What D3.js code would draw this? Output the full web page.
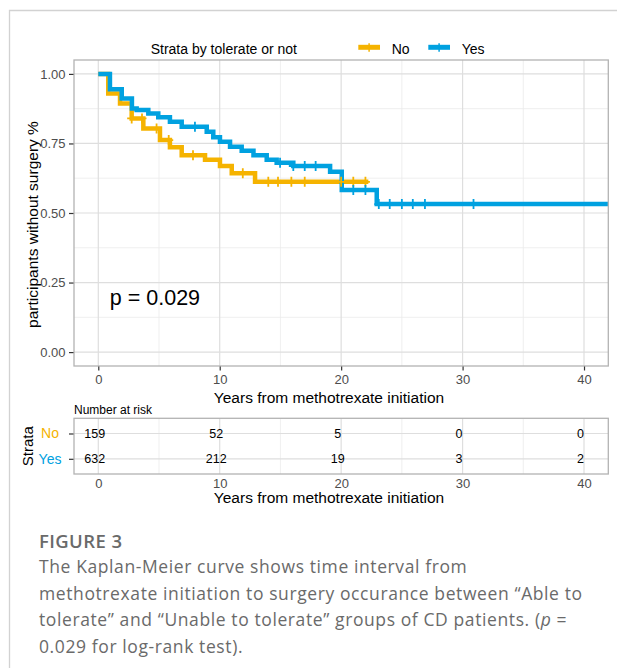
<!DOCTYPE html>
<html lang="en">

<head>
    <meta charset="UTF-8">
    <script src="https://d3js.org/d3.v7.min.js"></script>
    <title>KM curve</title>
    <style>
        body {
            margin: 0;
            background: white;
        }

        svg text {
            font-family: "Liberation Sans", Arial, sans-serif;
        }

        .caption text {
            font-family: "Open Sans", sans-serif;
            fill: #6a6a6a;
        }
    </style>
</head>

<body>
    <div class="fig"></div>

    <script>
        // survival steps (time of drop, level after drop)
        const noTimes = [0, 0.82, 1.79, 2.75, 3.71, 5.08, 5.9, 6.87, 8.79, 10.02, 10.99, 12.91, 22.24];
        const noSurv = [1, 0.930, 0.894, 0.840, 0.804, 0.762, 0.736, 0.708, 0.691, 0.669, 0.643, 0.612, 0.612];
        const yesTimes = [0, 0.96, 1.93, 2.77, 3.16, 4.12, 4.94, 5.9, 6.87, 8.93, 9.47, 10.02, 10.85, 11.81, 12.78, 13.87, 14.69, 16.06, 19.09, 20.05, 22.93, 42];
        const yesSurv = [1, 0.945, 0.912, 0.876, 0.870, 0.858, 0.844, 0.828, 0.810, 0.792, 0.772, 0.756, 0.738, 0.724, 0.708, 0.691, 0.681, 0.669, 0.648, 0.583, 0.532, 0.532];

        // censored times
        const noCensor = [2.75, 3.6, 4.8, 5.8, 7.8, 11.9, 14, 14.8, 15.9, 17, 20, 21, 22];
        const yesCensor = [7.96, 14.97, 16.06, 17, 17.9, 21, 22, 23.1, 24, 25, 25.9, 26.9, 30.9];

        // number at risk table
        const riskTimes = [0, 10, 20, 30, 40];
        const riskNo = [159, 52, 5, 0, 0];
        const riskYes = [632, 212, 19, 3, 2];

        const strata = ["No", "Yes"];
        const strataColors = ["#F5B300", "#00A1E0"];

        const xTicks = [0, 10, 20, 30, 40];
        const xMinor = [5, 15, 25, 35];
        const yTicks = [0, 0.25, 0.5, 0.75, 1];
        const yMinor = [0.125, 0.375, 0.625, 0.875];

        const captionTitle = "FIGURE 3";
        const captionLines = [
            "The Kaplan-Meier curve shows time interval from",
            "methotrexate initiation to surgery occurance between \u201cAble to",
            "tolerate\u201d and \u201cUnable to tolerate\u201d groups of CD patients. (|p| =",
            "0.029 for log-rank test)."
        ];

        const width = 617, height = 668;
        const panel = { left: 74, right: 608.3, top: 60, bottom: 366 };
        const table = { top: 418.3, bottom: 474 };

        const svg = d3.select(".fig").append("svg")
            .attr("width", width)
            .attr("height", height);

        svg.append("rect").attr("width", width).attr("height", height).attr("fill", "white");

        // page frame
        svg.append("path")
            .attr("d", `M9.5,${height} V10.5 H${width}`)
            .attr("fill", "none")
            .attr("stroke", "#d2d2d2")
            .attr("stroke-width", 1.3);

        const x = d3.scaleLinear().domain([-2, 42]).range([panel.left, panel.right]);
        const y = d3.scaleLinear().domain([-0.05, 1.05]).range([panel.bottom, panel.top]);

        const grid = (g, top, bottom, yMaj, yMin) => {
            g.selectAll(".vmin").data(xMinor).enter().append("line")
                .attr("x1", d => x(d)).attr("x2", d => x(d))
                .attr("y1", top).attr("y2", bottom)
                .attr("stroke", "#ebebeb").attr("stroke-width", 0.8);
            g.selectAll(".hmin").data(yMin).enter().append("line")
                .attr("x1", panel.left).attr("x2", panel.right)
                .attr("y1", d => d).attr("y2", d => d)
                .attr("stroke", "#ebebeb").attr("stroke-width", 0.8);
            g.selectAll(".vmaj").data(xTicks).enter().append("line")
                .attr("x1", d => x(d)).attr("x2", d => x(d))
                .attr("y1", top).attr("y2", bottom)
                .attr("stroke", "#dedede").attr("stroke-width", 1.2);
            g.selectAll(".hmaj").data(yMaj).enter().append("line")
                .attr("x1", panel.left).attr("x2", panel.right)
                .attr("y1", d => d).attr("y2", d => d)
                .attr("stroke", "#dedede").attr("stroke-width", 1.2);
        };

        grid(svg.append("g"), panel.top, panel.bottom, yTicks.map(y), yMinor.map(y));

        // curves
        svg.append("clipPath").attr("id", "clip").append("rect")
            .attr("x", panel.left).attr("y", panel.top)
            .attr("width", panel.right - panel.left).attr("height", panel.bottom - panel.top);

        const line = d3.line().curve(d3.curveStepAfter).x(d => x(d[0])).y(d => y(d[1]));
        const curves = [d3.zip(noTimes, noSurv), d3.zip(yesTimes, yesSurv)];
        const censors = [noCensor, yesCensor];

        const plotG = svg.append("g").attr("clip-path", "url(#clip)");
        curves.forEach((c, i) => {
            plotG.append("path")
                .attr("d", line(c))
                .attr("fill", "none")
                .attr("stroke", strataColors[i])
                .attr("stroke-width", 4.5);
        });

        const stepValue = (c, t) => {
            const idx = d3.bisector(d => d[0]).right(c, t) - 1;
            return c[Math.max(idx, 0)][1];
        };

        censors.forEach((cs, i) => {
            plotG.selectAll(".c" + i).data(cs).enter().append("path")
                .attr("d", t => {
                    const cx = x(t), cy = y(stepValue(curves[i], t));
                    return `M${cx - 4.5},${cy}H${cx + 4.5}M${cx},${cy - 5}V${cy + 5}`;
                })
                .attr("stroke", strataColors[i])
                .attr("stroke-width", 1.8)
                .attr("fill", "none");
        });

        svg.append("rect")
            .attr("x", panel.left).attr("y", panel.top)
            .attr("width", panel.right - panel.left).attr("height", panel.bottom - panel.top)
            .attr("fill", "none").attr("stroke", "#b3b3b3").attr("stroke-width", 1.3);

        // axes
        const styleAxis = (g, size) => {
            g.select(".domain").remove();
            g.selectAll(".tick line").attr("stroke", "#333").attr("stroke-width", 1.2);
            g.selectAll(".tick text").attr("fill", "#4d4d4d").style("font-size", size + "px");
        };

        svg.append("g")
            .attr("transform", `translate(${panel.left - 0.5},0)`)
            .call(d3.axisLeft(y).tickValues(yTicks).tickFormat(d3.format(".2f")).tickSize(4.5).tickPadding(3.5))
            .call(g => styleAxis(g, 13));

        svg.append("g")
            .attr("transform", `translate(0,${panel.bottom + 0.5})`)
            .call(d3.axisBottom(x).tickValues(xTicks).tickSize(4).tickPadding(4.5))
            .call(g => styleAxis(g, 13));

        svg.append("text")
            .attr("x", 329).attr("y", 402.5)
            .attr("text-anchor", "middle")
            .style("font-size", "15.5px")
            .text("Years from methotrexate initiation");

        svg.append("text")
            .attr("transform", "translate(37.5,224.5) rotate(-90)")
            .attr("text-anchor", "middle")
            .style("font-size", "15.5px")
            .text("participants without surgery %");

        svg.append("text")
            .attr("x", x(0.95)).attr("y", 305)
            .style("font-size", "21.5px")
            .text("p = 0.029");

        // legend
        svg.append("text")
            .attr("x", 150.7).attr("y", 54)
            .style("font-size", "14px")
            .text("Strata by tolerate or not");

        const legendX = [358.3, 428.3];
        strata.forEach((s, i) => {
            const lg = svg.append("g").attr("transform", `translate(${legendX[i]},47.3)`);
            lg.append("line").attr("x1", 0).attr("x2", 21.7)
                .attr("stroke", strataColors[i]).attr("stroke-width", 5);
            lg.append("path").attr("d", "M10.8,-4V4.5")
                .attr("stroke", strataColors[i]).attr("stroke-width", 1.5);
            lg.append("text").attr("x", 33.4).attr("y", 6.5)
                .style("font-size", "14px")
                .text(s);
        });

        // risk table
        const yRisk = d3.scalePoint().domain(strata).range([table.top, table.bottom]).padding(0.6);
        const tg = svg.append("g");
        grid(tg, table.top, table.bottom, strata.map(yRisk), []);

        const riskRows = [riskNo, riskYes];
        strata.forEach((s, i) => {
            tg.selectAll(".r" + i).data(riskTimes).enter().append("text")
                .attr("x", d => x(d) - 3.5)
                .attr("y", yRisk(s))
                .attr("dy", "0.36em")
                .attr("text-anchor", "middle")
                .style("font-size", "12.5px")
                .text((d, j) => riskRows[i][j]);
        });

        svg.append("rect")
            .attr("x", panel.left).attr("y", table.top)
            .attr("width", panel.right - panel.left).attr("height", table.bottom - table.top)
            .attr("fill", "none").attr("stroke", "#b3b3b3").attr("stroke-width", 1.3);

        svg.append("text")
            .attr("x", panel.left).attr("y", 414)
            .style("font-size", "12px")
            .text("Number at risk");

        svg.append("g")
            .attr("transform", `translate(${panel.left - 0.5},0)`)
            .call(d3.axisLeft(yRisk).tickSize(4.5).tickPadding(4))
            .call(g => styleAxis(g, 14))
            .call(g => g.selectAll(".tick text")
                .attr("x", -23.5)
                .attr("text-anchor", "middle")
                .attr("fill", (d, i) => strataColors[i]));

        svg.append("g")
            .attr("transform", `translate(0,${table.bottom})`)
            .call(d3.axisBottom(x).tickValues(xTicks).tickSize(0).tickPadding(5))
            .call(g => styleAxis(g, 13));

        svg.append("text")
            .attr("x", 329).attr("y", 502.5)
            .attr("text-anchor", "middle")
            .style("font-size", "15.5px")
            .text("Years from methotrexate initiation");

        svg.append("text")
            .attr("transform", `translate(33,${(table.top + table.bottom) / 2}) rotate(-90)`)
            .attr("text-anchor", "middle")
            .style("font-size", "15px")
            .text("Strata");

        // caption
        const cap = svg.append("g").attr("class", "caption");
        cap.append("text")
            .attr("x", 39).attr("y", 548)
            .style("font-size", "18.5px")
            .style("font-weight", 600)
            .style("letter-spacing", "0.4px")
            .text(captionTitle);

        captionLines.forEach((l, i) => {
            const t = cap.append("text")
                .attr("x", 39).attr("y", 573 + i * 26.5)
                .style("font-size", "17.5px")
                .style("letter-spacing", "0.6px");
            l.split("|").forEach((part, k) => {
                t.append("tspan")
                    .style("font-style", k % 2 ? "italic" : "normal")
                    .text(part);
            });
        });
    </script>
</body>

</html>
